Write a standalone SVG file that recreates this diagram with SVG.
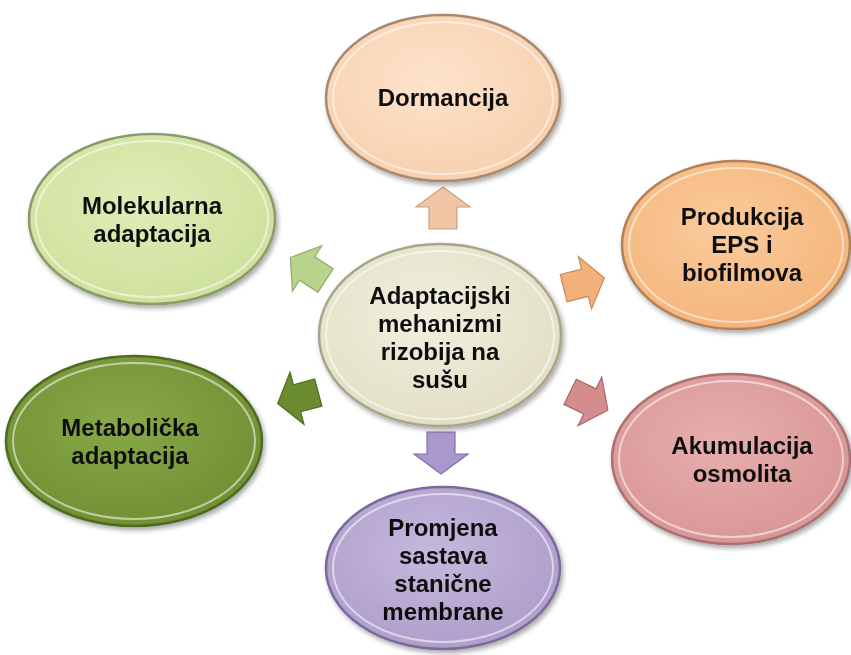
<svg xmlns="http://www.w3.org/2000/svg" width="851" height="655" viewBox="0 0 851 655">
<defs>
<style>
.t{font-family:"Liberation Sans",Arial,sans-serif;font-weight:700;font-size:24px;fill:#111;text-anchor:middle}
.ring{fill:none;stroke:#ffffff;stroke-opacity:0.55;stroke-width:2}
.ar{stroke-width:1.2;stroke-linejoin:miter}
</style>
<radialGradient id="gPeach" cx="45%" cy="40%" r="65%"><stop offset="0" stop-color="#fde3cc"/><stop offset="1" stop-color="#f7cfac"/></radialGradient>
<radialGradient id="gCenter" cx="45%" cy="40%" r="65%"><stop offset="0" stop-color="#f1efdf"/><stop offset="1" stop-color="#e2dec3"/></radialGradient>
<radialGradient id="gLgreen" cx="45%" cy="40%" r="65%"><stop offset="0" stop-color="#dfedb8"/><stop offset="1" stop-color="#cde09a"/></radialGradient>
<radialGradient id="gDgreen" cx="45%" cy="40%" r="65%"><stop offset="0" stop-color="#88a848"/><stop offset="1" stop-color="#6f8f32"/></radialGradient>
<radialGradient id="gOrange" cx="45%" cy="40%" r="65%"><stop offset="0" stop-color="#fbcb9c"/><stop offset="1" stop-color="#f4b47a"/></radialGradient>
<radialGradient id="gPink" cx="45%" cy="40%" r="65%"><stop offset="0" stop-color="#e7aeae"/><stop offset="1" stop-color="#d99494"/></radialGradient>
<radialGradient id="gPurple" cx="45%" cy="40%" r="65%"><stop offset="0" stop-color="#c5b8dc"/><stop offset="1" stop-color="#ad9dca"/></radialGradient>
<filter id="sh" x="-10%" y="-10%" width="125%" height="125%"><feGaussianBlur in="SourceAlpha" stdDeviation="2.5"/><feOffset dx="2" dy="3"/><feComponentTransfer><feFuncA type="linear" slope="0.35"/></feComponentTransfer><feMerge><feMergeNode/><feMergeNode in="SourceGraphic"/></feMerge></filter>
<path id="arrow" d="M-21,-14 L1,-14 L1,-27 L21,0 L1,27 L1,14 L-21,14 Z"/>
</defs>
<rect width="851" height="655" fill="#ffffff"/>

<g id="connectors">
<use href="#arrow" class="ar" fill="#f2c6a4" stroke="#c99f7f" transform="translate(443,208) rotate(-90)"/>
<use href="#arrow" class="ar" fill="#b8d38c" stroke="#8fae62" transform="translate(308,269) rotate(-147)"/>
<use href="#arrow" class="ar" fill="#6b8c2e" stroke="#4f6c1c" transform="translate(298,398) rotate(165)"/>
<use href="#arrow" class="ar" fill="#f2b07a" stroke="#c98a58" transform="translate(584,283) rotate(-14)"/>
<use href="#arrow" class="ar" fill="#d48c8c" stroke="#a96666" transform="translate(589,401) rotate(26)"/>
<use href="#arrow" class="ar" fill="#a898cc" stroke="#8070a6" transform="translate(441,453) rotate(90)"/>
</g>

<g id="center" filter="url(#sh)">
<ellipse cx="440" cy="335" rx="121" ry="91" fill="url(#gCenter)" stroke="#a8a48c" stroke-width="2.5"/>
<ellipse cx="440" cy="335" rx="114" ry="84" class="ring"/>
<text class="t" x="440" y="304">Adaptacijski</text>
<text class="t" x="440" y="332">mehanizmi</text>
<text class="t" x="440" y="360">rizobija na</text>
<text class="t" x="440" y="388">sušu</text>
</g>

<g id="dormancija" filter="url(#sh)">
<ellipse cx="443" cy="98" rx="117" ry="83" fill="url(#gPeach)" stroke="#a8896e" stroke-width="2.5"/>
<ellipse cx="443" cy="98" rx="110" ry="76" class="ring"/>
<text class="t" x="443" y="106">Dormancija</text>
</g>

<g id="molekularna" filter="url(#sh)">
<ellipse cx="152" cy="219" rx="123" ry="85" fill="url(#gLgreen)" stroke="#8a9a6a" stroke-width="2.5"/>
<ellipse cx="152" cy="219" rx="116" ry="78" class="ring"/>
<text class="t" x="152" y="214">Molekularna</text>
<text class="t" x="152" y="242">adaptacija</text>
</g>

<g id="metabolicka" filter="url(#sh)">
<ellipse cx="134" cy="441" rx="128" ry="85" fill="url(#gDgreen)" stroke="#4e6a20" stroke-width="2.5"/>
<ellipse cx="134" cy="441" rx="121" ry="78" class="ring"/>
<text class="t" x="130" y="436">Metabolička</text>
<text class="t" x="130" y="464">adaptacija</text>
</g>

<g id="produkcija" filter="url(#sh)">
<ellipse cx="736" cy="245" rx="114" ry="84" fill="url(#gOrange)" stroke="#b08058" stroke-width="2.5"/>
<ellipse cx="736" cy="245" rx="107" ry="77" class="ring"/>
<text class="t" x="742" y="225">Produkcija</text>
<text class="t" x="742" y="253">EPS i</text>
<text class="t" x="742" y="281">biofilmova</text>
</g>

<g id="akumulacija" filter="url(#sh)">
<ellipse cx="731" cy="459" rx="119" ry="85" fill="url(#gPink)" stroke="#a87070" stroke-width="2.5"/>
<ellipse cx="731" cy="459" rx="112" ry="78" class="ring"/>
<text class="t" x="742" y="454">Akumulacija</text>
<text class="t" x="742" y="482">osmolita</text>
</g>

<g id="promjena" filter="url(#sh)">
<ellipse cx="443" cy="568" rx="117" ry="81" fill="url(#gPurple)" stroke="#7a6a9a" stroke-width="2.5"/>
<ellipse cx="443" cy="568" rx="110" ry="74" class="ring"/>
<text class="t" x="443" y="536">Promjena</text>
<text class="t" x="443" y="564">sastava</text>
<text class="t" x="443" y="592">stanične</text>
<text class="t" x="443" y="620">membrane</text>
</g>
</svg>
